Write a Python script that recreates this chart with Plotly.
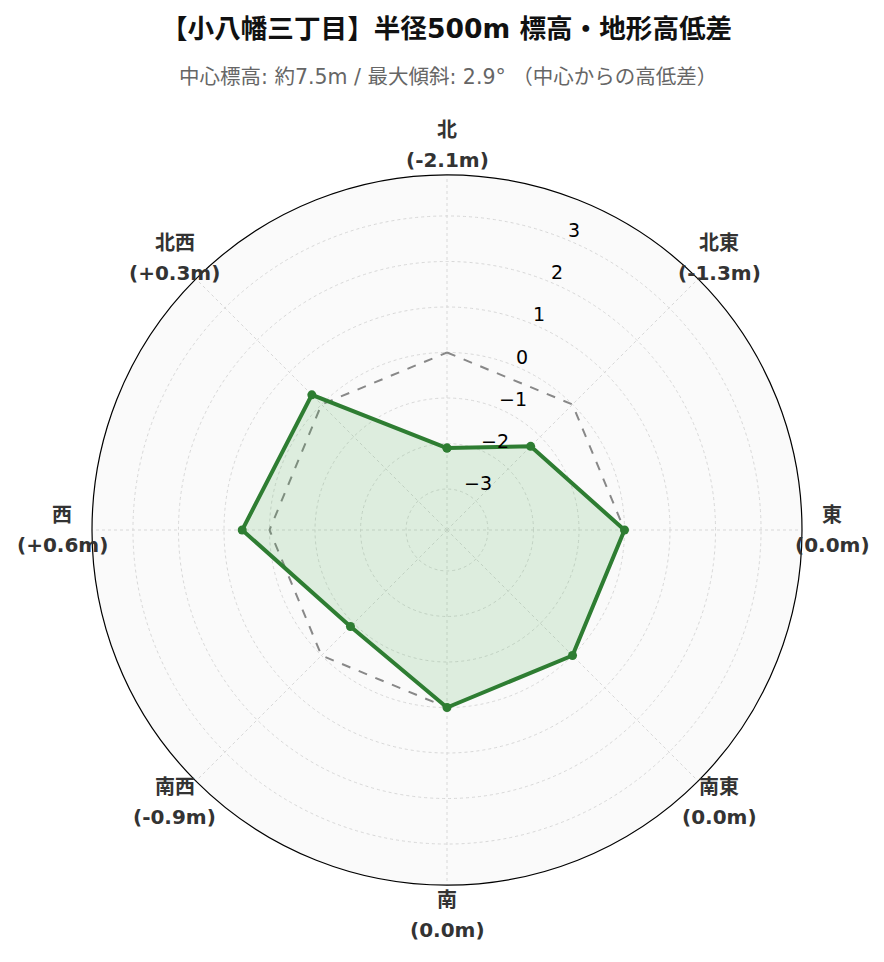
import math
import plotly.graph_objects as go

directions = ["北", "北東", "東", "南東", "南", "南西", "西", "北西"]
diffs = [-2.1, -1.3, 0.0, 0.0, 0.0, -0.9, 0.6, 0.3]
baseline = [0, 0, 0, 0, 0, 0, 0, 0]
radial_ticks = [-3, -2, -1, 0, 1, 2, 3]
r_range = [-3.9, 3.9]
radial_angle = 67.5

def fmt(v):
    if v > 0:
        return f"+{v:.1f}m"
    return f"{v:.1f}m"

theta_closed = directions + [directions[0]]

FONT = '"DejaVu Sans", "Noto Sans CJK JP", sans-serif'

W, H = 884, 962
ML, MR, MT, MB = 84, 90, 167, 85
PW = W - ML - MR
PH = H - MT - MB
OFF = 8  # page body offset

def px_x(px):
    return (px - ML - OFF) / PW

def px_y(py):
    return (H - MB + OFF - py) / PH

CX, CY = ML + OFF + PW / 2, MT + OFF + PH / 2
RAD = PW / 2

fig = go.Figure()
fig.add_trace(go.Scatterpolar(
    r=baseline + [baseline[0]], theta=theta_closed, mode="lines",
    line=dict(color="#888888", width=2, dash="dash"),
    hoverinfo="skip", showlegend=False,
))
fig.add_trace(go.Scatterpolar(
    r=diffs + [diffs[0]], theta=theta_closed, mode="lines+markers",
    fill="toself", fillcolor="rgba(76,175,80,0.16)",
    line=dict(color="#2e7d32", width=4),
    marker=dict(color="#2e7d32", size=9),
    showlegend=False,
))

annotations = [
    dict(text="<b>【小八幡三丁目】半径500m 標高・地形高低差</b>",
         x=px_x(446.5), y=px_y(28), xref="paper", yref="paper",
         xanchor="center", yanchor="middle", showarrow=False,
         font=dict(size=26.6, color="#111", family=FONT)),
    dict(text="中心標高: 約7.5m / 最大傾斜: 2.9° （中心からの高低差）",
         x=px_x(448), y=px_y(77), xref="paper", yref="paper",
         xanchor="center", yanchor="middle", showarrow=False,
         font=dict(size=20.5, color="#666", family=FONT)),
]

# direction labels (name + value), centred on a ring just outside the plot
LABEL_R = 385
for i, (d, v) in enumerate(zip(directions, diffs)):
    a = math.radians(90 - 45 * i)
    bx = CX + LABEL_R * math.cos(a)
    by = CY - LABEL_R * math.sin(a)
    for txt, dy in ((d, -15), (f"({fmt(v)})", 15)):
        annotations.append(dict(
            text=f"<b>{txt}</b>", x=px_x(bx), y=px_y(by + dy),
            xref="paper", yref="paper", xanchor="center", yanchor="middle",
            showarrow=False, font=dict(size=20, color="#333", family=FONT)))

# radial tick labels along the radial axis direction
a = math.radians(radial_angle)
for t in radial_ticks:
    rp = (t - r_range[0]) / (r_range[1] - r_range[0]) * RAD
    gx = CX + rp * math.cos(a)
    gy = CY - rp * math.sin(a)
    annotations.append(dict(
        text=str(t).replace("-", "\u2212"), x=px_x(gx - 1), y=px_y(gy - 9.5),
        xref="paper", yref="paper", xanchor="left", yanchor="middle",
        showarrow=False, font=dict(size=19, color="black", family=FONT)))

fig.update_layout(
    width=W, height=H,
    margin=dict(l=ML, r=MR, t=MT, b=MB),
    paper_bgcolor="white",
    font=dict(family=FONT, color="#333"),
    polar=dict(
        bgcolor="#fafafa",
        angularaxis=dict(
            direction="clockwise", rotation=90, showticklabels=False,
            showline=True, linecolor="black", linewidth=1.2,
            gridcolor="#d8d8d8", griddash="dot", ticks="",
        ),
        radialaxis=dict(
            range=r_range, tickvals=radial_ticks, angle=radial_angle,
            showticklabels=False,
            showline=False, gridcolor="#d8d8d8", griddash="dot", ticks="",
        ),
    ),
    annotations=annotations,
)

fig.write_html("out.html")
